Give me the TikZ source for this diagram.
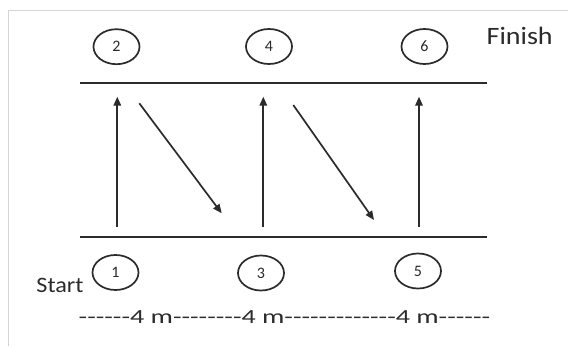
\documentclass[tikz,border=0pt]{standalone}
\usepackage{fontspec}
\setmainfont{Carlito}[Ligatures=TeXOff]
\usetikzlibrary{arrows.meta,shapes.geometric}
\definecolor{ink}{HTML}{2B2B2B}
\definecolor{frame}{HTML}{D4D4D4}
\begin{document}
\begin{tikzpicture}[x=1pt,y=-1pt,
  lane/.style={draw=ink,line width=1.8pt},
  move/.style={draw=ink,line width=1.7pt,-{Triangle[length=9pt,width=7.5pt]}},
  spot/.style={ellipse,draw=ink,line width=1.7pt,minimum width=46pt,minimum height=35pt,inner sep=0pt,text=ink,font=\fontsize{16}{16}\selectfont},
  lbl/.style={text=ink,inner sep=0pt,anchor=base}]
\useasboundingbox (0,0) rectangle (568,346);
\fill[white] (0,0) rectangle (568,346);
\draw[frame,line width=1.4pt] (8.3,346) -- (8.3,10.7) -- (568,10.7);
% position nodes
\node[spot] (p2) at (116.5,46.7) {2};
\node[spot] (p4) at (269,46.5) {4};
\node[spot] (p6) at (424.5,46.5) {6};
\node[spot] (p1) at (115.5,272.5) {1};
\node[spot] (p3) at (261,273) {3};
\node[spot] (p5) at (418,271) {5};
% labels
\node[lbl] (finish) at (519.7,44.3) {\scalebox{1.12}[1]{\fontsize{25}{25}\selectfont Finish}};
\node[lbl] (start) at (60,292.3) {\scalebox{1.1}[1]{\fontsize{22}{22}\selectfont Start}};
\node[lbl] (dist) at (284.5,323.3) {\scalebox{1.4}[1]{\fontsize{20}{20}\selectfont ------4 m--------4 m-------------4 m------}};
% lane lines
\coordinate (tl) at (80,83);
\coordinate (tr) at (487,83);
\coordinate (bl) at (80,236.7);
\coordinate (br) at (487,236.7);
\draw[lane] (tl) -- (tr);
\draw[lane] (bl) -- (br);
% runs
\coordinate (a1s) at (117.3,226.7); \coordinate (a1e) at (117.3,96.7);
\coordinate (a2s) at (263.3,226.7); \coordinate (a2e) at (263.3,96.7);
\coordinate (a3s) at (419,226.7);   \coordinate (a3e) at (419,96.7);
\coordinate (d1s) at (139.3,103.3); \coordinate (d1e) at (221.7,213.3);
\coordinate (d2s) at (293.3,105);   \coordinate (d2e) at (374,220);
\draw[move] (a1s) -- (a1e);
\draw[move] (d1s) -- (d1e);
\draw[move] (a2s) -- (a2e);
\draw[move] (d2s) -- (d2e);
\draw[move] (a3s) -- (a3e);
\end{tikzpicture}
\end{document}
